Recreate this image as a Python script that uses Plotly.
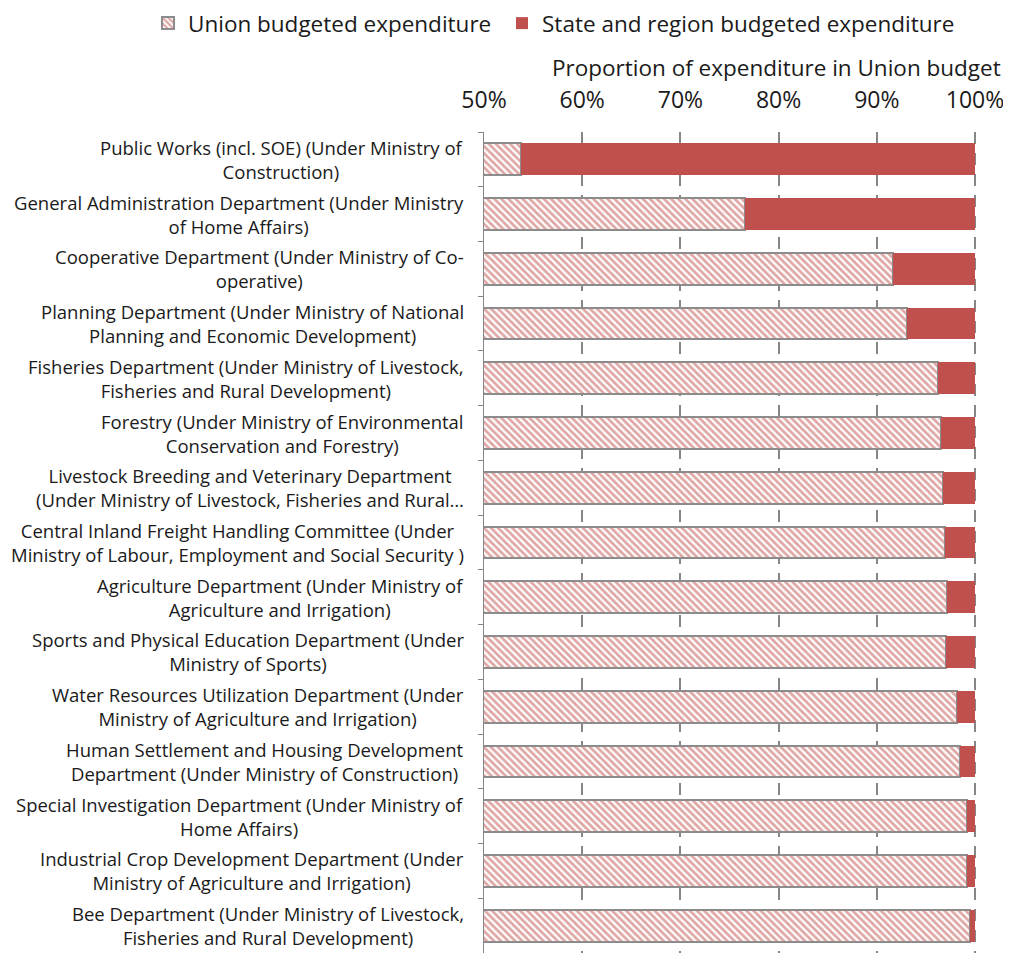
import plotly.graph_objects as go

categories = [
    "Public Works (incl. SOE) (Under Ministry of<br>Construction)",
    "General Administration Department (Under Ministry<br>of Home Affairs)",
    "Cooperative Department (Under Ministry of Co-<br>operative)",
    "Planning Department (Under Ministry of National<br>Planning and Economic Development)",
    "Fisheries Department (Under Ministry of Livestock,<br>Fisheries and Rural Development)",
    "Forestry (Under Ministry of Environmental<br>Conservation and Forestry)",
    "Livestock Breeding and Veterinary Department<br>(Under Ministry of Livestock, Fisheries and Rural…",
    "Central Inland Freight Handling Committee (Under<br>Ministry of Labour, Employment and Social Security )",
    "Agriculture Department (Under Ministry of<br>Agriculture and Irrigation)",
    "Sports and Physical Education Department (Under<br>Ministry of Sports)",
    "Water Resources Utilization Department (Under<br>Ministry of Agriculture and Irrigation)",
    "Human Settlement and Housing Development<br>Department (Under Ministry of Construction)",
    "Special Investigation Department (Under Ministry of<br>Home Affairs)",
    "Industrial Crop Development Department (Under<br>Ministry of Agriculture and Irrigation)",
    "Bee Department (Under Ministry of Livestock,<br>Fisheries and Rural Development)",
]
union_pct = [53.8, 76.6, 91.6, 93.1, 96.2, 96.5, 96.7, 96.9, 97.1, 97.0, 98.2, 98.5, 99.2, 99.2, 99.5]
state_pct = [round(100 - v, 1) for v in union_pct]
x_ticks = [50, 60, 70, 80, 90, 100]

RED = "#C0504D"
GRAY = "#868686"
FONT = "Open Sans"
TXT = "#1a1a1a"

ids = list(range(len(categories)))

fig = go.Figure()
fig.add_trace(go.Bar(
    y=ids, x=union_pct, orientation="h", name="Union budgeted expenditure",
    marker=dict(color="white",
                pattern=dict(shape="\\", fgcolor=RED, bgcolor="white", size=5, solidity=0.55),
                line=dict(color="#8c8c8c", width=2)),
    width=0.58, legend="legend", showlegend=True,
))
fig.add_trace(go.Bar(
    y=ids, x=state_pct, orientation="h", name="State and region budgeted expenditure",
    marker=dict(color=RED, line=dict(width=0)),
    width=0.58, legend="legend2", showlegend=True,
))

annotations = []
for i, c in enumerate(categories):
    annotations.append(dict(
        x=-0.036, xref="paper", y=i, yref="y", text=c, showarrow=False,
        xanchor="right", yanchor="middle", align="center",
        font=dict(family=FONT, size=18.5, color=TXT),
    ))
annotations.append(dict(
    x=1.053, xref="paper", y=1.079, yref="paper", yanchor="middle", xanchor="right",
    text="Proportion of expenditure in Union budget", showarrow=False,
    font=dict(family=FONT, size=22.5, color=TXT),
))

leg_common = dict(orientation="h", xref="container", yref="container",
                  y=0.9836, xanchor="left", yanchor="middle",
                  bgcolor="rgba(0,0,0,0)",
                  font=dict(family=FONT, size=22.5, color=TXT), itemwidth=30)

fig.update_layout(
    width=995, height=945,
    margin=dict(l=476, r=26, t=124, b=0),
    barmode="stack", showlegend=True,
    plot_bgcolor="white", paper_bgcolor="white",
    font=dict(family=FONT, color=TXT),
    legend=dict(x=0.1407, **leg_common),
    legend2=dict(x=0.4965, **leg_common),
    annotations=annotations,
)
fig.update_xaxes(
    side="top", range=[50, 100.2], tickvals=x_ticks,
    ticktext=[f"{v}%" for v in x_ticks], automargin=False,
    showgrid=True, gridcolor=GRAY, gridwidth=2, griddash="12px,9px",
    showline=False, zeroline=False, ticks="", ticklabelstandoff=18,
    ticklabeloverflow="allow",
    tickfont=dict(family=FONT, size=23, color=TXT),
)
fig.update_yaxes(
    type="linear", range=[len(categories) - 0.5, -0.5], automargin=False,
    tickvals=[i - 0.5 for i in range(len(categories) + 1)], showticklabels=False,
    ticks="outside", ticklen=5, tickcolor=GRAY, tickwidth=1,
    showline=True, linecolor=GRAY, linewidth=1, showgrid=False, zeroline=False,
)

fig.write_html("out.html")
